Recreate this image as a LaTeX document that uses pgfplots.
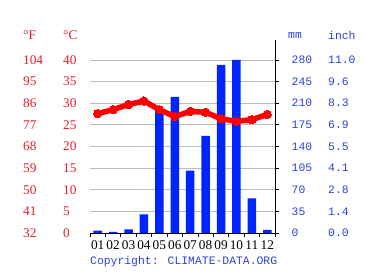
\documentclass[border=0pt]{standalone}
\usepackage{fontspec}
\usepackage{pgfplots}
\pgfplotsset{compat=1.18}
\newfontfamily\serif{Liberation Serif}
\newfontfamily\mono{Liberation Mono}
\definecolor{txtred}{RGB}{226,30,45}
\definecolor{txtblue}{RGB}{45,65,215}
\definecolor{barblue}{RGB}{0,36,255}
\definecolor{gridgray}{RGB}{190,190,190}
\newcommand{\rfont}{\serif\fontsize{13.3bp}{14bp}\selectfont}
\newcommand{\bfont}{\mono\fontsize{11.4bp}{13bp}\selectfont}
\begin{document}
\begin{tikzpicture}
\useasboundingbox (-90bp,-40bp) rectangle (275bp,233bp);
\pgfplotsset{base/.style={scale only axis, width=185bp, height=193bp, at={(0,0)}, anchor=south west, xmin=0.5, xmax=12.5, clip=false}}
% precipitation axis
\begin{axis}[base, ymin=0, ymax=312.2,
  axis x line*=bottom, axis y line*=right,
  axis line style={black, line width=0.8bp},
  xtick={0.5,1.5,...,12.5}, xticklabels={},
  ytick={0,35,...,280},
  yticklabels={0,35,70,105,140,175,210,245,280},
  tick align=outside, major tick length=3.5bp,
  tick style={black, line width=0.8bp},
  ymajorgrids, grid style={gridgray, line width=0.8bp},
  yticklabel style={anchor=west, inner sep=0pt, xshift=13bp, font=\bfont, text=txtblue},
]
\addplot[ybar, bar width=8.5bp, draw=none, fill=barblue] coordinates {
(1,4) (2,2) (3,6) (4,30) (5,200) (6,220) (7,101) (8,157) (9,272) (10,280) (11,56) (12,5)};
\end{axis}
% temperature axis
\begin{axis}[base, ymin=0, ymax=44.6,
  axis line style={draw=none}, major tick length=0pt,
  xtick={1,...,12}, xticklabels={01,02,03,04,05,06,07,08,09,10,11,12},
  xticklabel style={anchor=base, inner sep=0pt, yshift=-16.5bp, font=\rfont, text=black},
  ytick={0,5,...,40}, yticklabels={0,5,10,15,20,25,30,35,40},
  ytick pos=left,
  yticklabel style={anchor=west, inner sep=0pt, xshift=-27bp, font=\rfont, text=txtred},
]
\addplot[red, line width=5.5bp, mark=*, mark size=4.2bp, mark options={fill=red, draw=red, line width=0pt}] coordinates {
(1,27.6) (2,28.5) (3,29.7) (4,30.5) (5,28.5) (6,26.9) (7,28.1) (8,27.9) (9,26.4) (10,25.8) (11,26.2) (12,27.4)};
\end{axis}
% Fahrenheit labels
\begin{axis}[base, ymin=0, ymax=44.6,
  axis line style={draw=none}, major tick length=0pt, xtick=\empty,
  ytick={0,5,...,40}, yticklabels={32,41,50,59,68,77,86,95,104},
  ytick pos=left,
  yticklabel style={anchor=west, inner sep=0pt, xshift=-67bp, font=\rfont, text=txtred},
]
\end{axis}
% inch labels
\begin{axis}[base, ymin=0, ymax=312.2,
  axis line style={draw=none}, major tick length=0pt, xtick=\empty,
  ytick={0,35,...,280}, yticklabels={0.0,1.4,2.8,4.1,5.5,6.9,8.3,9.6,11.0},
  ytick pos=right, yticklabel pos=right,
  yticklabel style={anchor=west, inner sep=0pt, xshift=53bp, font=\bfont, text=txtblue},
]
\end{axis}
\node[anchor=west, inner sep=0pt, font=\rfont, text=txtred] at (-67bp,198bp) {°F};
\node[anchor=west, inner sep=0pt, font=\rfont, text=txtred] at (-27bp,198bp) {°C};
\node[anchor=west, inner sep=0pt, font=\bfont, text=txtblue] at (198bp,198bp) {mm};
\node[anchor=west, inner sep=0pt, font=\bfont, text=txtblue] at (238bp,198bp) {inch};
\node[anchor=west, inner sep=0pt, font=\bfont, text=txtblue] at (0bp,-29bp) {Copyright: CLIMATE-DATA.ORG};
\end{tikzpicture}
\end{document}
